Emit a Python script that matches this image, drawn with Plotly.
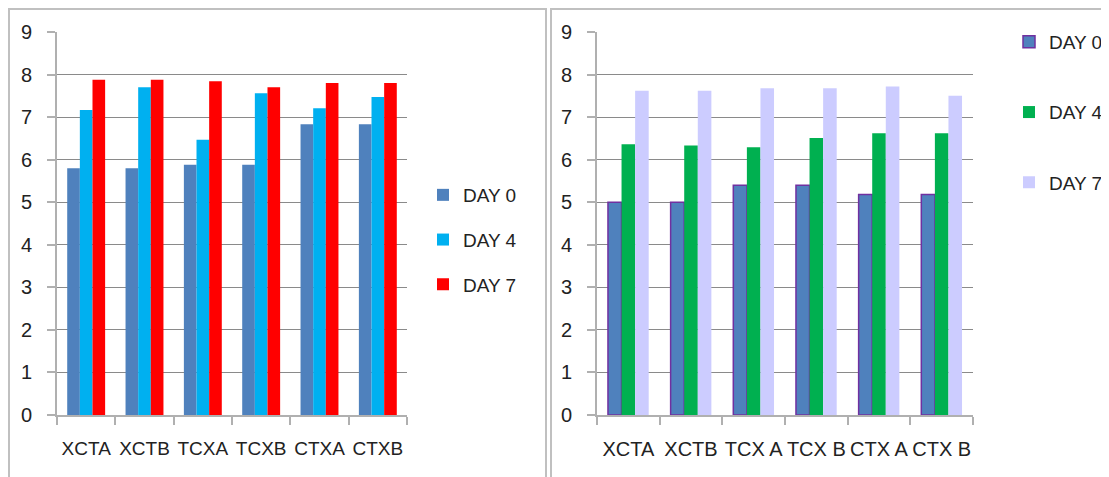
import plotly.graph_objects as go

# ---- data ----
left_categories = ["XCTA", "XCTB", "TCXA", "TCXB", "CTXA", "CTXB"]
left_day0 = [5.80, 5.80, 5.88, 5.88, 6.83, 6.83]
left_day4 = [7.17, 7.70, 6.47, 7.56, 7.21, 7.47]
left_day7 = [7.88, 7.88, 7.84, 7.70, 7.80, 7.80]

right_categories = ["XCTA", "XCTB", "TCX A", "TCX B", "CTX A", "CTX B"]
right_day0 = [5.00, 5.00, 5.40, 5.40, 5.18, 5.18]
right_day4 = [6.36, 6.33, 6.29, 6.51, 6.62, 6.62]
right_day7 = [7.62, 7.62, 7.68, 7.68, 7.72, 7.50]

series_names = ["DAY 0", "DAY 4", "DAY 7"]
y_ticks = [0, 1, 2, 3, 4, 5, 6, 7, 8, 9]

W, H = 1109, 477
OFF = 8  # page body margin shifts the figure by 8px
FONT = "Liberation Sans, Arial, sans-serif"
TXT = "#222222"

def px(x):
    return (x - OFF) / W

def py(y):
    return (H - (y - OFF)) / H

fig = go.Figure()

left_colors = ["#4F81BD", "#00B0F0", "#FF0000"]
for name, vals, col in zip(series_names, [left_day0, left_day4, left_day7], left_colors):
    fig.add_trace(go.Bar(x=left_categories, y=vals, name=name, marker_color=col,
                         marker_line_width=0, xaxis="x", yaxis="y",
                         legend="legend", legendgroup="L" + name))

right_colors = ["#4F81BD", "#00B050", "#CCCCFF"]
right_lines = ["#7030A0", "#00B050", "#CCCCFF"]
right_lw = [1.5, 0, 0]
for name, vals, col, lc, lw in zip(series_names, [right_day0, right_day4, right_day7],
                                   right_colors, right_lines, right_lw):
    fig.add_trace(go.Bar(x=right_categories, y=vals, name=name, marker_color=col,
                         marker_line_color=lc, marker_line_width=lw,
                         xaxis="x2", yaxis="y2",
                         legend="legend2", legendgroup="R" + name))

axis_common = dict(showline=True, linecolor="#b0b0b0", linewidth=2,
                   ticks="outside", tickcolor="#b0b0b0", tickwidth=2,
                   fixedrange=True, automargin=False)

yax = dict(range=[0, 9], tickvals=y_ticks, showgrid=True, gridcolor="#8a8a8a",
           gridwidth=1.4, ticklen=8, ticklabelstandoff=11, zeroline=False,
           tickfont=dict(family=FONT, size=20, color=TXT), domain=[py(415), py(32)],
           **axis_common)

xax = dict(tickson="boundaries", ticklen=8, ticklabelstandoff=15, tickangle=0,
           **axis_common)

fig.update_layout(
    width=W, height=H,
    margin=dict(l=0, r=0, t=0, b=0),
    paper_bgcolor="white", plot_bgcolor="white",
    barmode="group", bargap=0.35, bargroupgap=0,
    xaxis=dict(domain=[px(57), px(407)], anchor="y",
               tickfont=dict(family=FONT, size=19, color=TXT), **xax),
    yaxis=dict(anchor="x", **yax),
    xaxis2=dict(domain=[px(597), px(973)], anchor="y2",
                tickfont=dict(family=FONT, size=20, color=TXT), **xax),
    yaxis2=dict(anchor="x2", **yax),
    legend=dict(x=px(423), y=py(176), xanchor="left", yanchor="top",
                font=dict(family=FONT, size=19, color=TXT),
                traceorder="grouped", tracegroupgap=17, bgcolor="rgba(0,0,0,0)"),
    legend2=dict(x=px(1009), y=py(23), xanchor="left", yanchor="top",
                 font=dict(family=FONT, size=19, color=TXT),
                 traceorder="grouped", tracegroupgap=42.5, bgcolor="rgba(0,0,0,0)"),
    shapes=[
        dict(type="rect", xref="paper", yref="paper", x0=px(9), x1=px(546),
             y0=-0.1, y1=py(9), line=dict(color="#c0c0c0", width=2)),
        dict(type="rect", xref="paper", yref="paper", x0=px(551), x1=1.1,
             y0=-0.1, y1=py(9), line=dict(color="#c0c0c0", width=2)),
    ],
)

fig.write_html("out.html")
